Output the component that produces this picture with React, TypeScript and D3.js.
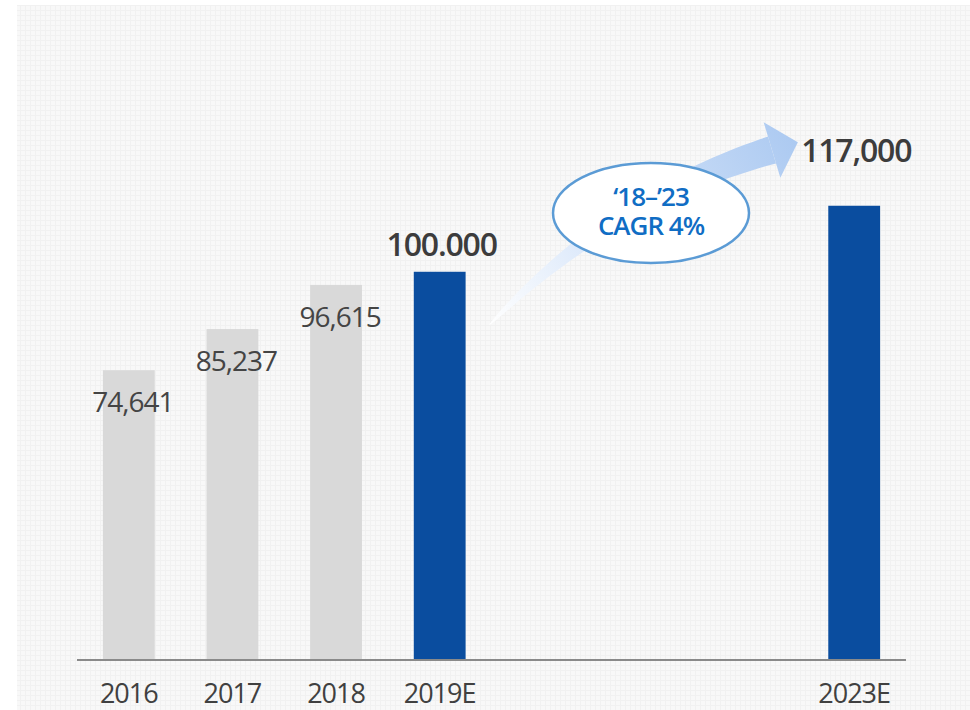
import React from 'react';
import * as d3 from 'd3';

const slots = ['2016', '2017', '2018', '2019E', '2020', '2021', '2022', '2023E'];
const years = ['2016', '2017', '2018', '2019E', '2023E'];
const values = [74641, 85237, 96615, 100000, 117000];
const valueLabels = ['74,641', '85,237', '96,615', '100.000', '117,000'];
const forecast = [false, false, false, true, true];
const cagrLines = ['‘18–’23', 'CAGR 4%'];

const W = 970, H = 710;
const baseY = 660;
const font = '"Open Sans", "Noto Sans", sans-serif';

function App() {
  const x = d3.scaleBand()
    .domain(slots)
    .range([77, 906])
    .paddingInner(0.5)
    .paddingOuter(0.25);

  const y = d3.scaleLinear()
    .domain([0, 170000])
    .range([baseY, 0]);

  const bw = x.bandwidth();

  // curved growth arrow from 2019E bar toward the 2023E label
  const p0: [number, number] = [x('2019E')! + bw + 24, y(100000) + 53];
  const c: [number, number] = [612, 198];
  const p2: [number, number] = [772, 150];
  const bez = (t: number) => {
    const a = (1 - t) * (1 - t), b = 2 * (1 - t) * t, d = t * t;
    return [a * p0[0] + b * c[0] + d * p2[0], a * p0[1] + b * c[1] + d * p2[1]];
  };
  const tan = (t: number) => {
    const dx = 2 * (1 - t) * (c[0] - p0[0]) + 2 * t * (p2[0] - c[0]);
    const dy = 2 * (1 - t) * (c[1] - p0[1]) + 2 * t * (p2[1] - c[1]);
    const l = Math.hypot(dx, dy);
    return [dx / l, dy / l];
  };
  const N = 40;
  const upper: [number, number][] = [];
  const lower: [number, number][] = [];
  d3.range(N + 1).forEach(i => {
    const t = i / N;
    const [px, py] = bez(t);
    const [tx, ty] = tan(t);
    const hw = 0.5 + 13.5 * Math.pow(t, 0.7);
    upper.push([px + ty * hw, py - tx * hw]);
    lower.push([px - ty * hw, py + tx * hw]);
  });
  const shaft = d3.line()([...upper, ...lower.reverse()]) + 'Z';
  const [ex, ey] = bez(1);
  const [etx, ety] = tan(1);
  const headHalf = 29, headLen = 27;
  const head = d3.line()([
    [ex + ety * headHalf, ey - etx * headHalf],
    [ex + etx * headLen, ey + ety * headLen],
    [ex - ety * headHalf, ey + etx * headHalf],
  ]) + 'Z';

  return (
    <svg width={W} height={H} style={{ position: 'absolute', left: 0, top: 0 }}>
      <defs>
        <pattern id="grid" width="5" height="5" patternUnits="userSpaceOnUse">
          <rect width="5" height="5" fill="#f8f8f8" />
          <path d="M0 0.5H5M0.5 0V5" stroke="#f1f1f1" strokeWidth="1" />
        </pattern>
        <linearGradient id="arrowGrad" gradientUnits="userSpaceOnUse"
          x1={p0[0]} y1={p0[1]} x2={ex + etx * headLen} y2={ey - 20}>
          <stop offset="0" stopColor="#ffffff" stopOpacity="0.95" />
          <stop offset="0.35" stopColor="#dbe8fa" />
          <stop offset="1" stopColor="#abc9f1" />
        </linearGradient>
      </defs>
      <rect x={17} y={5} width={W - 17} height={H - 5} fill="url(#grid)" />

      <path d={shaft} fill="url(#arrowGrad)" />
      <path d={head} fill="url(#arrowGrad)" />

      {years.map((yr, i) => (
        <rect key={yr} x={x(yr)} y={y(values[i])} width={bw} height={baseY - y(values[i])}
          fill={forecast[i] ? '#0a4d9f' : '#d9d9d9'} />
      ))}

      <line x1={77} x2={906} y1={baseY} y2={baseY} stroke="#8a8a8a" strokeWidth={2} />

      {years.map((yr, i) => (
        <text key={'v' + yr}
          x={x(yr)! + bw / 2 + (forecast[i] ? 2 : 4)}
          y={forecast[i] ? y(values[i]) - (i === 4 ? 44 : 16) : y(values[i]) + 42}
          textAnchor="middle" fontFamily={font}
          fontSize={forecast[i] ? 32 : 28}
          fontWeight={forecast[i] ? 600 : 400}
          letterSpacing={forecast[i] ? -1.2 : -1}
          fill={forecast[i] ? '#3c3c3c' : '#444444'}>
          {valueLabels[i]}
        </text>
      ))}

      {years.map(yr => (
        <text key={'x' + yr} x={x(yr)! + bw / 2} y={703} textAnchor="middle"
          fontFamily={font} fontSize={27} letterSpacing={-1} fill="#404040">
          {yr}
        </text>
      ))}

      <ellipse cx={651} cy={213} rx={98} ry={50} fill="#ffffff" stroke="#5b9bd5" strokeWidth={2.5} />
      <text x={651} y={206} textAnchor="middle" fontFamily={font}
        fontSize={26} fontWeight={600} letterSpacing={-1} fill="#106dc4">
        {cagrLines.map((t, i) => (
          <tspan key={t} x={651} dy={i === 0 ? 0 : 28.5}>{t}</tspan>
        ))}
      </text>
    </svg>
  );
}

export default App;
